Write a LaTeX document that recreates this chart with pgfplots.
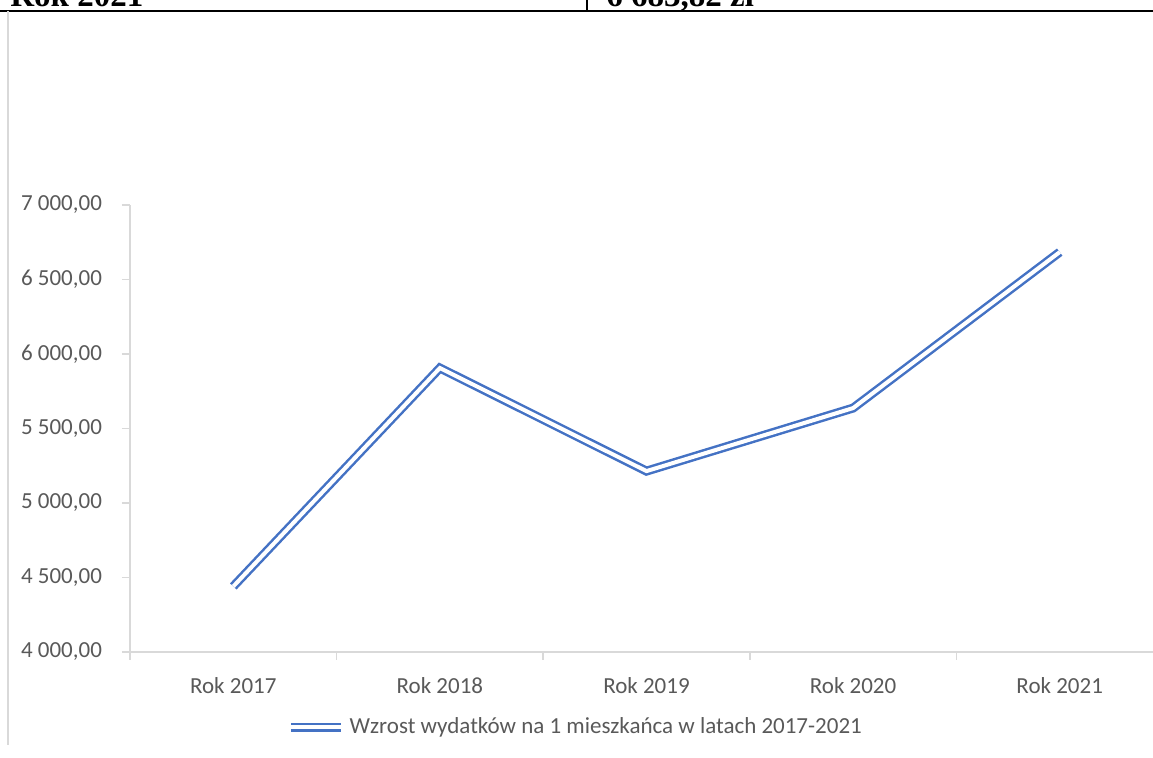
\documentclass[border=0pt]{standalone}
\usepackage{pgfplots}
\pgfplotsset{compat=1.18}
\usepackage{fontspec}
\setmainfont{Carlito}
\newfontfamily\tnr{Liberation Serif}
\definecolor{exblue}{HTML}{4472C4}
\definecolor{txtgray}{HTML}{595959}
\definecolor{axgray}{HTML}{D9D9D9}
\begin{document}
\begin{tikzpicture}
\useasboundingbox (0,0) rectangle (576.5pt,379pt);
\begin{scope}
\clip (0,0) rectangle (576.5pt,379pt);
\begin{scope}[x=0.5pt,y=-0.5pt,shift={(0pt,379pt)}]
\draw[black,line width=1pt] (0,11) -- (1153,11);
\draw[black,line width=0.75pt] (587,-5) -- (587,11);
\node[anchor=base west,inner sep=0pt,font=\tnr\bfseries\fontsize{16.5}{18}\selectfont] at (10,7) {Rok 2021};
\node[anchor=base west,inner sep=0pt,font=\tnr\bfseries\fontsize{16.5}{18}\selectfont] at (606,7) {6 683,82 zł};
\draw[axgray,line width=1pt] (8,11) -- (8,745);
\end{scope}
\begin{axis}[
  at={(65pt,53pt)}, anchor=south west, scale only axis,
  width=516.5pt, height=223.5pt,
  xmin=-0.5, xmax=4.5, ymin=4000, ymax=7000,
  axis x line*=bottom, axis y line*=left,
  axis line style={axgray, line width=0.75pt, -},
  xtick={-0.5,0.5,1.5,2.5,3.5,4.5},
  x tick label as interval=true,
  xticklabels={Rok 2017,Rok 2018,Rok 2019,Rok 2020,Rok 2021},
  ytick={4000,4500,5000,5500,6000,6500,7000},
  tick align=outside,
  major tick length=4pt,
  tick style={axgray, line width=0.75pt},
  ticklabel style={font=\fontsize{11.5}{14}\selectfont, text=txtgray},
  xticklabel style={yshift=-5pt},
  yticklabel style={xshift=-6.5pt},
  /pgf/number format/.cd, fixed, fixed zerofill, precision=2, use comma, 1000 sep={\ }, assume math mode=true,
  /pgfplots/.cd,
  legend style={at={(0.432,-0.168)}, anchor=center, draw=none, fill=none,
    font=\fontsize{11.5}{14}\selectfont, text=txtgray},
  legend image code/.code={\draw[#1] (0pt,0pt) -- (25pt,0pt);},
  clip=false,
]
\addplot[exblue, line width=1.25pt, double=white, double distance=2pt, line join=miter]
  coordinates {(0,4440) (1,5906) (2,5214) (3,5637) (4,6683.82)};
\addlegendentry{Wzrost wydatków na 1 mieszkańca w latach 2017-2021}
\end{axis}
\end{scope}
\end{tikzpicture}
\end{document}
